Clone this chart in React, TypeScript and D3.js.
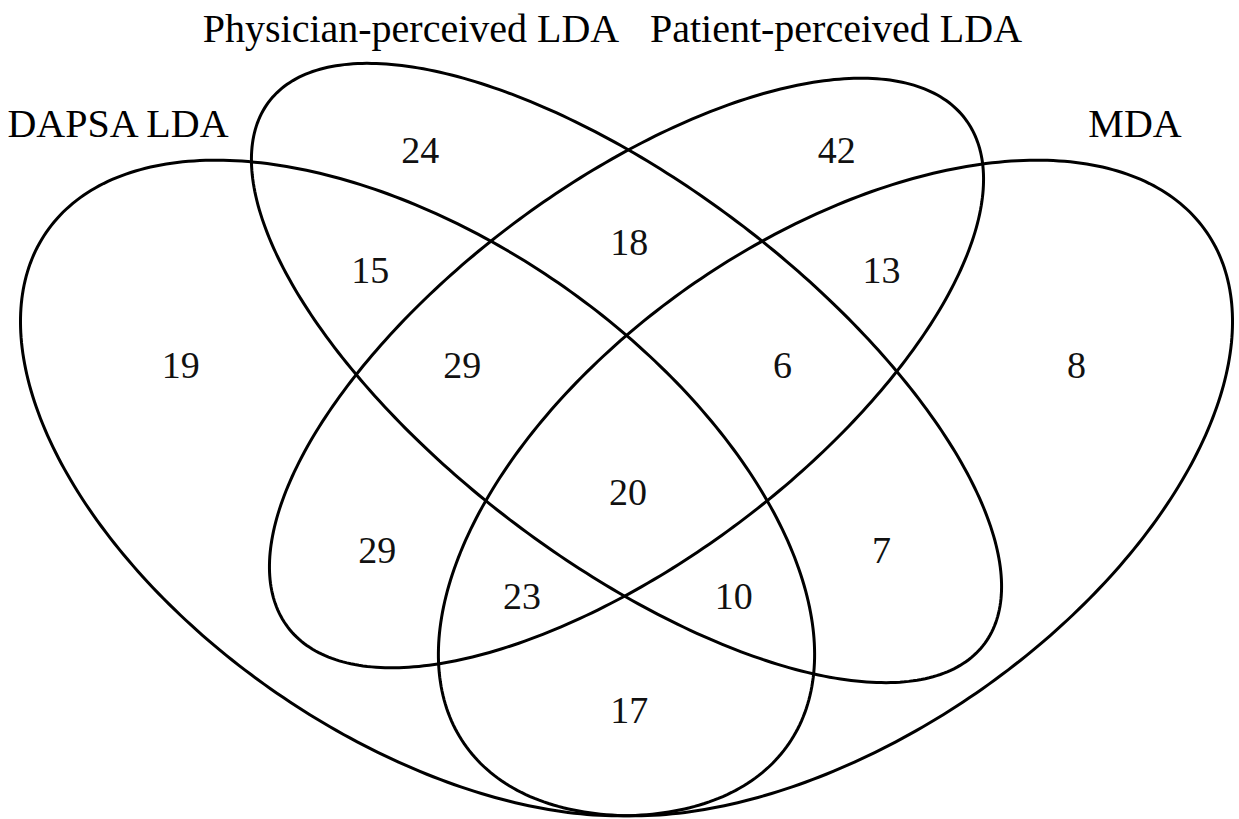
import React from "react";
import * as d3 from "d3";

// set names, left to right as drawn
const setNames = ["DAPSA LDA", "Physician-perceived LDA", "Patient-perceived LDA", "MDA"];

// region membership (DAPSA, Physician, Patient, MDA) and counts
const regionSets = [
  "0100", "0010", "1100", "0110", "0011",
  "1000", "1110", "0111", "0001", "1111",
  "1010", "0101", "1011", "1101", "1001",
];
const regionCounts = [24, 42, 15, 18, 13, 19, 29, 6, 8, 20, 29, 7, 23, 10, 17];

// layout in unit space (VennDiagram quad style)
const ellipses = [
  { cx: 0.35, cy: 0.47, a: 0.35, b: 0.2, rot: 135 },
  { cx: 0.5, cy: 0.57, a: 0.35, b: 0.15, rot: 135 },
  { cx: 0.5, cy: 0.57, a: 0.33, b: 0.15, rot: 45 },
  { cx: 0.65, cy: 0.47, a: 0.35, b: 0.2, rot: 45 },
];
const regionPos = [
  [0.352, 0.764], [0.651, 0.764], [0.316, 0.66], [0.502, 0.684], [0.683, 0.66],
  [0.18, 0.577], [0.382, 0.577], [0.612, 0.577], [0.823, 0.577], [0.501, 0.467],
  [0.321, 0.416], [0.683, 0.416], [0.425, 0.376], [0.577, 0.376], [0.502, 0.277],
];

const width = 1239;
const height = 819;

const x = d3.scaleLinear().domain([0, 1]).range([-70, 1323]);
const y = d3.scaleLinear().domain([0, 1]).range([1028.5, -121.5]);

const ellipsePath = (e) => {
  const r = (e.rot * Math.PI) / 180;
  const pts = d3.range(0, 360, 1).map((deg) => {
    const t = (deg * Math.PI) / 180;
    const u = e.cx + e.a * Math.cos(t) * Math.cos(r) - e.b * Math.sin(t) * Math.sin(r);
    const v = e.cy + e.a * Math.cos(t) * Math.sin(r) + e.b * Math.sin(t) * Math.cos(r);
    return [u, v];
  });
  return d3.line().x((d) => x(d[0])).y((d) => y(d[1])).curve(d3.curveLinearClosed)(pts);
};

const App = () => {
  const font = "'Liberation Serif', 'Times New Roman', serif";
  return (
    <svg
      width={width}
      height={height}
      style={{ position: "absolute", left: 0, top: 0, background: "#fff" }}
    >
      <rect width={width} height={height} fill="#fff" />
      {ellipses.map((e, i) => (
        <path key={i} d={ellipsePath(e)} fill="none" stroke="#000" strokeWidth={3} />
      ))}
      {regionCounts.map((c, i) => (
        <text
          key={regionSets[i]}
          x={x(regionPos[i][0])}
          y={y(regionPos[i][1])}
          dy="0.35em"
          textAnchor="middle"
          fontFamily={font}
          fontSize={38}
          fill="#111"
        >
          {c}
        </text>
      ))}
      <text x={118} y={137} textAnchor="middle" fontFamily={font} fontSize={40}>{setNames[0]}</text>
      <text x={411} y={42} textAnchor="middle" fontFamily={font} fontSize={40}>{setNames[1]}</text>
      <text x={836} y={42} textAnchor="middle" fontFamily={font} fontSize={40}>{setNames[2]}</text>
      <text x={1135} y={137} textAnchor="middle" fontFamily={font} fontSize={40}>{setNames[3]}</text>
    </svg>
  );
};

export default App;
